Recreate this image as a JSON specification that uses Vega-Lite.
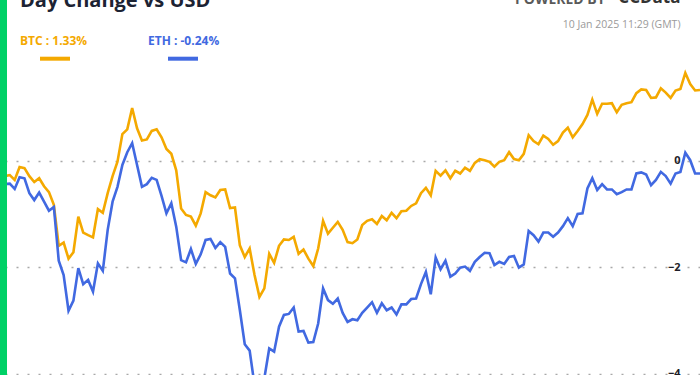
{
"$schema": "https://vega.github.io/schema/vega-lite/v6.json",
"width": 700, "height": 375, "padding": 0, "autosize": {"type": "none"},
"background": "white",
"config": {"view": {"stroke": null}},
"title": {"text": "Day Change vs USD", "anchor": "start", "frame": "group", "offset": 0, "dx": 20, "dy": 38, "baseline": "alphabetic", "fontSize": 20, "fontWeight": "bold", "font": "Open Sans", "color": "#1c2333"},
"data": {"values": [
{"t":0,"BTC":-0.31,"ETH":-0.46},{"t":1,"BTC":-0.29,"ETH":-0.44},{"t":2,"BTC":-0.27,"ETH":-0.43},{"t":3,"BTC":-0.36,"ETH":-0.53},{"t":4,"BTC":-0.12,"ETH":-0.31},{"t":5,"BTC":-0.14,"ETH":-0.33},{"t":6,"BTC":-0.29,"ETH":-0.61},{"t":7,"BTC":-0.40,"ETH":-0.74},{"t":8,"BTC":-0.33,"ETH":-0.60},{"t":9,"BTC":-0.48,"ETH":-0.77},
{"t":10,"BTC":-0.59,"ETH":-0.94},{"t":11,"BTC":-0.83,"ETH":-0.87},{"t":12,"BTC":-1.60,"ETH":-1.88},{"t":13,"BTC":-1.54,"ETH":-2.15},{"t":14,"BTC":-1.84,"ETH":-2.82},{"t":15,"BTC":-1.72,"ETH":-2.63},{"t":16,"BTC":-1.05,"ETH":-2.02},{"t":17,"BTC":-1.35,"ETH":-2.32},{"t":18,"BTC":-1.40,"ETH":-2.24},{"t":19,"BTC":-1.44,"ETH":-2.46},
{"t":20,"BTC":-0.91,"ETH":-1.93},{"t":21,"BTC":-0.98,"ETH":-2.07},{"t":22,"BTC":-0.61,"ETH":-1.30},{"t":23,"BTC":-0.29,"ETH":-0.77},{"t":24,"BTC":-0.02,"ETH":-0.49},{"t":25,"BTC":0.50,"ETH":-0.08},{"t":26,"BTC":0.59,"ETH":0.16},{"t":27,"BTC":0.99,"ETH":0.33},{"t":28,"BTC":0.61,"ETH":-0.08},{"t":29,"BTC":0.38,"ETH":-0.49},
{"t":30,"BTC":0.40,"ETH":-0.44},{"t":31,"BTC":0.56,"ETH":-0.32},{"t":32,"BTC":0.59,"ETH":-0.36},{"t":33,"BTC":0.44,"ETH":-0.66},{"t":34,"BTC":0.22,"ETH":-0.99},{"t":35,"BTC":0.13,"ETH":-0.80},{"t":36,"BTC":-0.18,"ETH":-1.24},{"t":37,"BTC":-0.90,"ETH":-1.87},{"t":38,"BTC":-1.02,"ETH":-1.91},{"t":39,"BTC":-1.05,"ETH":-1.66},
{"t":40,"BTC":-1.22,"ETH":-1.94},{"t":41,"BTC":-0.99,"ETH":-1.76},{"t":42,"BTC":-0.59,"ETH":-1.49},{"t":43,"BTC":-0.65,"ETH":-1.47},{"t":44,"BTC":-0.69,"ETH":-1.64},{"t":45,"BTC":-0.55,"ETH":-1.53},{"t":46,"BTC":-0.54,"ETH":-1.62},{"t":47,"BTC":-0.89,"ETH":-2.12},{"t":48,"BTC":-0.88,"ETH":-2.21},{"t":49,"BTC":-1.59,"ETH":-2.81},
{"t":50,"BTC":-1.81,"ETH":-3.45},{"t":51,"BTC":-1.65,"ETH":-3.57},{"t":52,"BTC":-2.15,"ETH":-4.22},{"t":53,"BTC":-2.56,"ETH":-4.35},{"t":54,"BTC":-2.40,"ETH":-4.09},{"t":55,"BTC":-1.75,"ETH":-3.53},{"t":56,"BTC":-1.92,"ETH":-3.59},{"t":57,"BTC":-1.60,"ETH":-3.12},{"t":58,"BTC":-1.48,"ETH":-2.90},{"t":59,"BTC":-1.49,"ETH":-2.88},
{"t":60,"BTC":-1.43,"ETH":-2.76},{"t":61,"BTC":-1.75,"ETH":-3.21},{"t":62,"BTC":-1.67,"ETH":-3.20},{"t":63,"BTC":-1.84,"ETH":-3.42},{"t":64,"BTC":-1.98,"ETH":-3.41},{"t":65,"BTC":-1.65,"ETH":-3.06},{"t":66,"BTC":-1.13,"ETH":-2.40},{"t":67,"BTC":-1.37,"ETH":-2.62},{"t":68,"BTC":-1.26,"ETH":-2.69},{"t":69,"BTC":-1.15,"ETH":-2.59},
{"t":70,"BTC":-1.30,"ETH":-2.86},{"t":71,"BTC":-1.53,"ETH":-3.03},{"t":72,"BTC":-1.55,"ETH":-2.98},{"t":73,"BTC":-1.48,"ETH":-3.00},{"t":74,"BTC":-1.21,"ETH":-2.86},{"t":75,"BTC":-1.13,"ETH":-2.76},{"t":76,"BTC":-1.10,"ETH":-2.66},{"t":77,"BTC":-1.19,"ETH":-2.86},{"t":78,"BTC":-1.04,"ETH":-2.68},{"t":79,"BTC":-1.12,"ETH":-2.81},
{"t":80,"BTC":-0.98,"ETH":-2.76},{"t":81,"BTC":-1.08,"ETH":-2.89},{"t":82,"BTC":-0.95,"ETH":-2.70},{"t":83,"BTC":-0.94,"ETH":-2.70},{"t":84,"BTC":-0.85,"ETH":-2.60},{"t":85,"BTC":-0.80,"ETH":-2.59},{"t":86,"BTC":-0.61,"ETH":-2.32},{"t":87,"BTC":-0.51,"ETH":-2.09},{"t":88,"BTC":-0.65,"ETH":-2.51},{"t":89,"BTC":-0.19,"ETH":-1.82},
{"t":90,"BTC":-0.28,"ETH":-2.04},{"t":91,"BTC":-0.18,"ETH":-1.88},{"t":92,"BTC":-0.33,"ETH":-2.18},{"t":93,"BTC":-0.19,"ETH":-2.12},{"t":94,"BTC":-0.24,"ETH":-2.01},{"t":95,"BTC":-0.13,"ETH":-1.99},{"t":96,"BTC":-0.19,"ETH":-2.07},{"t":97,"BTC":-0.04,"ETH":-1.90},{"t":98,"BTC":0.03,"ETH":-1.81},{"t":99,"BTC":0.01,"ETH":-1.73},
{"t":100,"BTC":-0.02,"ETH":-1.74},{"t":101,"BTC":-0.11,"ETH":-1.96},{"t":102,"BTC":-0.02,"ETH":-1.90},{"t":103,"BTC":0.01,"ETH":-1.94},{"t":104,"BTC":0.16,"ETH":-1.81},{"t":105,"BTC":0.03,"ETH":-1.79},{"t":106,"BTC":0.01,"ETH":-2.01},{"t":107,"BTC":0.13,"ETH":-1.95},{"t":108,"BTC":0.48,"ETH":-1.32},{"t":109,"BTC":0.37,"ETH":-1.40},
{"t":110,"BTC":0.31,"ETH":-1.52},{"t":111,"BTC":0.47,"ETH":-1.35},{"t":112,"BTC":0.41,"ETH":-1.35},{"t":113,"BTC":0.30,"ETH":-1.43},{"t":114,"BTC":0.37,"ETH":-1.35},{"t":115,"BTC":0.53,"ETH":-1.23},{"t":116,"BTC":0.62,"ETH":-1.08},{"t":117,"BTC":0.44,"ETH":-1.23},{"t":118,"BTC":0.56,"ETH":-1.00},{"t":119,"BTC":0.69,"ETH":-0.99},
{"t":120,"BTC":0.86,"ETH":-0.52},{"t":121,"BTC":1.15,"ETH":-0.33},{"t":122,"BTC":0.88,"ETH":-0.55},{"t":123,"BTC":1.07,"ETH":-0.44},{"t":124,"BTC":1.07,"ETH":-0.54},{"t":125,"BTC":1.08,"ETH":-0.54},{"t":126,"BTC":0.91,"ETH":-0.63},{"t":127,"BTC":1.05,"ETH":-0.59},{"t":128,"BTC":1.08,"ETH":-0.54},{"t":129,"BTC":1.10,"ETH":-0.54},
{"t":130,"BTC":1.27,"ETH":-0.24},{"t":131,"BTC":1.34,"ETH":-0.22},{"t":132,"BTC":1.33,"ETH":-0.26},{"t":133,"BTC":1.18,"ETH":-0.46},{"t":134,"BTC":1.19,"ETH":-0.36},{"t":135,"BTC":1.36,"ETH":-0.21},{"t":136,"BTC":1.28,"ETH":-0.29},{"t":137,"BTC":1.18,"ETH":-0.43},{"t":138,"BTC":1.32,"ETH":-0.24},{"t":139,"BTC":1.35,"ETH":-0.21},
{"t":140,"BTC":1.65,"ETH":0.15},{"t":141,"BTC":1.44,"ETH":0.01},{"t":142,"BTC":1.32,"ETH":-0.24},{"t":143,"BTC":1.33,"ETH":-0.24}
]},
"layer": [
{
"transform": [{"fold": ["BTC", "ETH"], "as": ["coin", "pct"]}],
"mark": {"type": "line", "clip": true, "strokeWidth": 2.6},
"encoding": {
"x": {"field": "t", "type": "quantitative", "scale": {"domain": [0, 143], "nice": false, "zero": false},
"axis": {"orient": "top", "labels": false, "ticks": false, "domain": false, "grid": false, "title": "10 Jan 2025 11:29 (GMT)", "titleX": 680, "titleY": 24.5, "titleAlign": "right", "titleBaseline": "middle", "titleAngle": 0, "titleFont": "Open Sans", "titleFontSize": 10.5, "titleFontWeight": "normal", "titleColor": "#9a9a9a"}},
"y": {"field": "pct", "type": "quantitative", "scale": {"domain": [-4.028, 3.021], "nice": false, "zero": false},
"axis": {"orient": "right", "offset": -20, "values": [-4, -2, 0], "domain": false, "ticks": false, "labelPadding": 0, "labelAlign": "right", "labelBaseline": "middle", "labelFont": "Open Sans", "labelFontWeight": "bold", "labelFontSize": 11, "labelColor": "#1e1e28", "labelBound": false, "labelFlush": false, "grid": true, "gridColor": "#a8a8a8", "gridDash": [2, 9], "gridWidth": 1.5, "title": null}},
"color": {"field": "coin", "type": "nominal", "scale": {"domain": ["BTC", "ETH"], "range": ["#f4a900", "#4169e1"]},
"legend": {"orient": "none", "legendX": 20, "legendY": 41.7, "direction": "horizontal", "title": null, "padding": 0, "symbolType": "stroke", "symbolSize": 900, "symbolStrokeWidth": 4, "symbolOffset": 18, "labelOffset": -52, "columnPadding": 60, "labelFont": "Open Sans", "labelFontSize": 12, "labelFontWeight": "bold",
"labelExpr": "datum.label == 'BTC' ? 'BTC : 1.33%' : 'ETH : -0.24%'",
"encode": {"labels": {"update": {"dy": {"value": -18}, "fill": {"signal": "datum.value == 'BTC' ? '#f4a900' : '#4169e1'"}}}}}}
}
},
{
"data": {"values": [{}]},
"mark": {"type": "rule", "color": "#00d166", "strokeWidth": 14},
"encoding": {
"x": {"datum": 0, "type": "quantitative",
"axis": {"orient": "bottom", "labels": false, "ticks": false, "domain": false, "grid": false, "title": "POWERED BY", "titleX": 605, "titleY": -372, "titleAlign": "right", "titleBaseline": "alphabetic", "titleAngle": 0, "titleFont": "Open Sans", "titleFontSize": 14, "titleFontWeight": "bold", "titleColor": "#5a5a5a"}},
"y": {"datum": -4.028, "type": "quantitative",
"axis": {"orient": "left", "labels": false, "ticks": false, "domain": false, "grid": false, "title": "CCData", "titleX": 680, "titleY": 2.5, "titleAlign": "right", "titleBaseline": "alphabetic", "titleAngle": 0, "titleFont": "Open Sans", "titleFontSize": 17, "titleFontWeight": "bold", "titleColor": "#333333"}},
"y2": {"datum": 3.021}
}
}
],
"resolve": {"axis": {"x": "independent", "y": "independent"}}
}
